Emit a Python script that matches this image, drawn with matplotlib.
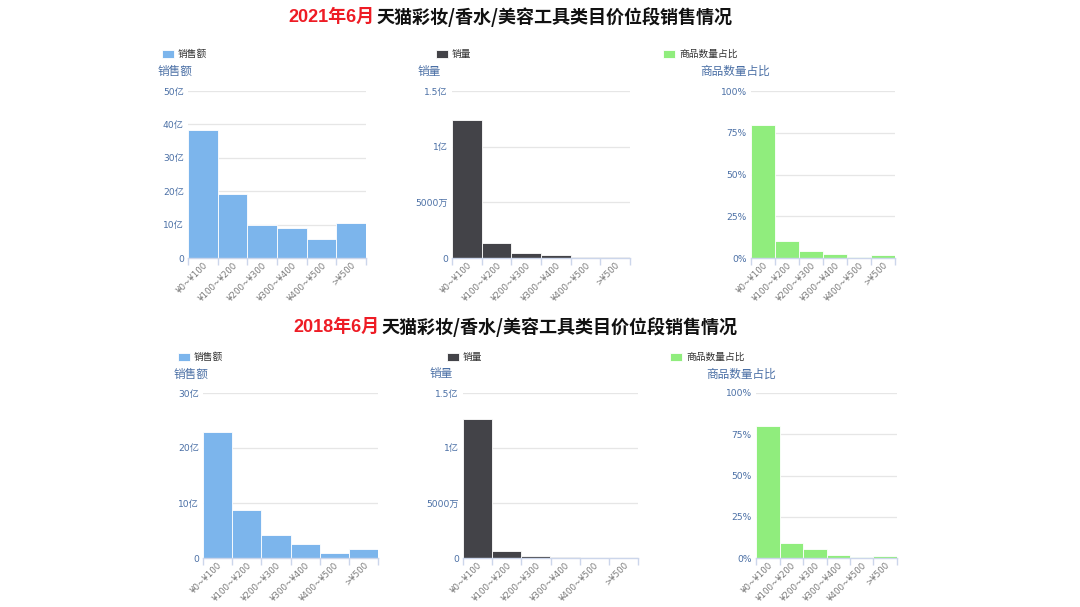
import matplotlib
matplotlib.use("Agg")
import matplotlib.pyplot as plt
from matplotlib.ticker import FixedLocator, FuncFormatter

plt.rcParams['font.family'] = ['DejaVu Sans', 'Noto Sans CJK SC']

categories = ["¥0~¥100", "¥100~¥200", "¥200~¥300", "¥300~¥400", "¥400~¥500", ">¥500"]

# 2021 (销售额 in 亿, 销量 in 亿, 商品数量占比 in %)
sales_2021 = [38.3, 19.3, 9.8, 8.9, 5.7, 10.5]
volume_2021 = [1.24, 0.137, 0.042, 0.03, 0.012, 0.01]
share_2021 = [79.6, 10.0, 4.4, 2.2, 0.8, 2.0]

# 2018
sales_2018 = [23.0, 8.8, 4.2, 2.55, 0.9, 1.56]
volume_2018 = [1.267, 0.06, 0.018, 0.008, 0.003, 0.002]
share_2018 = [80.0, 8.8, 5.2, 2.0, 0.8, 1.4]

title_2021 = ("2021年6月", "天猫彩妆/香水/美容工具类目价位段销售情况")
title_2018 = ("2018年6月", "天猫彩妆/香水/美容工具类目价位段销售情况")

series_names = ["销售额", "销量", "商品数量占比"]
colors = ["#7cb5ec", "#434348", "#90ed7d"]

W, H = 1080, 607
fig = plt.figure(figsize=(W / 100, H / 100), dpi=100)

LABEL_C = "#4a6fa5"
GRID_C = "#e6e6e6"
AXIS_C = "#ccd6eb"
CJK = ['Noto Sans CJK SC', 'DejaVu Sans']


def fmt_yi(v, pos):
    if v == 0:
        return "0"
    return f"{v:g}亿"


def fmt_vol(v, pos):
    if v == 0:
        return "0"
    if v < 1:
        return f"{v * 10000:g}万"
    return f"{v:g}亿"


def fmt_pct(v, pos):
    return f"{v:g}%"


def make_ax(px_left, px_right, px_top, px_bottom, values, color, name, ticks, fmt,
            legend_xy, title_xy):
    ax = fig.add_axes([px_left / W, 1 - px_bottom / H,
                       (px_right - px_left) / W, (px_bottom - px_top) / H])
    x = list(range(len(values)))
    ax.bar(x, values, width=1.0, color=color, edgecolor="white", linewidth=0.6,
           label=name, zorder=3)
    ax.set_xlim(-0.5, len(values) - 0.5)
    ax.set_ylim(0, ticks[-1])
    ax.yaxis.set_major_locator(FixedLocator(ticks))
    ax.yaxis.set_major_formatter(FuncFormatter(fmt))
    ax.grid(axis="y", color=GRID_C, linewidth=0.9, zorder=0)
    ax.set_axisbelow(True)
    for s in ["top", "right", "left"]:
        ax.spines[s].set_visible(False)
    ax.spines["bottom"].set_color(AXIS_C)
    ax.spines["bottom"].set_linewidth(1.0)
    ax.spines["bottom"].set_zorder(4)
    ax.set_xticks(x)
    ax.set_xticklabels(categories, rotation=45, ha="right", rotation_mode="anchor",
                       fontsize=6.2, color="#7a7a7a")
    ax.set_xticks([i - 0.5 for i in range(len(values) + 1)], minor=True)
    ax.tick_params(axis="x", which="major", length=0, pad=2)
    ax.tick_params(axis="x", which="minor", length=5, color=AXIS_C, width=1)
    ax.tick_params(axis="y", length=0, pad=3, labelsize=6.6, labelcolor=LABEL_C)
    ax.legend(loc="center left", bbox_to_anchor=(legend_xy[0] / W, 1 - legend_xy[1] / H),
              bbox_transform=fig.transFigure, frameon=False,
              prop={'family': CJK, 'size': 7},
              handlelength=1.2, handleheight=0.9, handletextpad=0.45,
              borderpad=0, borderaxespad=0, labelcolor="#333333")
    fig.text(title_xy[0] / W, 1 - title_xy[1] / H, name, fontsize=8.4,
             color=LABEL_C, ha="left", va="center", family=CJK)
    return ax


# Top row (2021)
make_ax(188, 366, 91, 258, sales_2021, colors[0], series_names[0],
        [0, 10, 20, 30, 40, 50], fmt_yi, (162, 54), (158, 71))
make_ax(452, 630, 91, 258, volume_2021, colors[1], series_names[1],
        [0, 0.5, 1.0, 1.5], fmt_vol, (436, 54), (418, 71))
make_ax(751, 895, 91, 258, share_2021, colors[2], series_names[2],
        [0, 25, 50, 75, 100], fmt_pct, (663, 54), (700, 71))

# Bottom row (2018)
make_ax(203, 378, 393, 558, sales_2018, colors[0], series_names[0],
        [0, 10, 20, 30], fmt_yi, (178, 357), (174, 374))
make_ax(463, 638, 393, 558, volume_2018, colors[1], series_names[1],
        [0, 0.5, 1.0, 1.5], fmt_vol, (447, 357), (430, 374))
make_ax(756, 897, 393, 558, share_2018, colors[2], series_names[2],
        [0, 25, 50, 75, 100], fmt_pct, (670, 357), (706, 374))


def two_color_title(parts, x_left, y_center):
    fig.canvas.draw()
    r = fig.canvas.get_renderer()
    t1 = fig.text(x_left / W, 1 - y_center / H, parts[0], color="#ee1c25",
                  fontsize=13, fontweight="bold", ha="left", va="center",
                  family=['Liberation Sans', 'Noto Sans CJK SC'])
    bb = t1.get_window_extent(renderer=r)
    fig.text(bb.x1 / W + 2 / W, 1 - y_center / H, parts[1], color="#111111",
             fontsize=13, fontweight="bold", ha="left", va="center", family=CJK)


two_color_title(title_2021, 288, 17)
two_color_title(title_2018, 293, 327)

fig.savefig("out.png", dpi=100, facecolor="white")
